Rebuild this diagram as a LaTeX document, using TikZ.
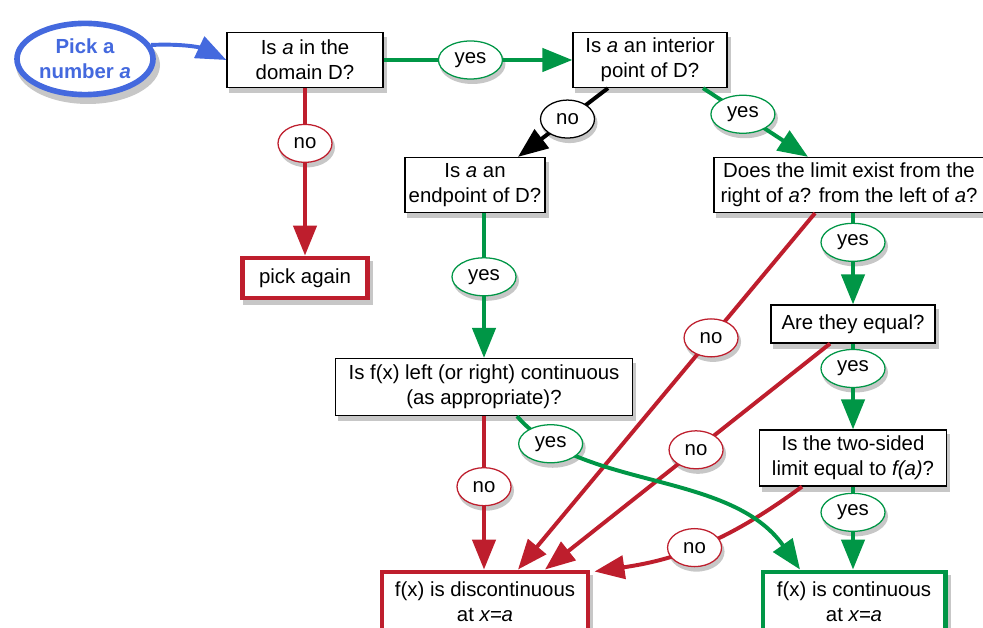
\documentclass[tikz,border=0pt]{standalone}
\usepackage{fontspec}
\setmainfont{Liberation Sans}
\usepackage{tikz}
\usetikzlibrary{arrows.meta,positioning,calc,shapes.geometric,backgrounds}
\definecolor{fcred}{RGB}{190,30,45}
\definecolor{fcgreen}{RGB}{0,150,70}
\definecolor{fcblue}{RGB}{68,105,222}

\begin{document}
\begin{tikzpicture}[
  x=0.025cm, y=-0.025cm,
  font=\fontsize{14.5}{17.5}\selectfont,
  shd/.style={fill=black!22, draw=none},
  box/.style={draw, fill=white, line width=0.9pt, align=center, inner sep=2pt,
              minimum height=1.375cm},
  endbox/.style={box, line width=3.5pt},
  tag/.style={ellipse, draw, fill=white, text=black, line width=0.9pt, inner sep=0pt,
              minimum height=0.95cm},
  yeslbl/.style={tag, draw=fcgreen, minimum width=1.6cm},
  nolbl/.style={tag, draw=fcred, minimum width=1.35cm},
  blklbl/.style={tag, draw=black, minimum width=1.35cm},
  ar/.style={-{Triangle[length=7.5mm,width=5.8mm]}, line width=2.8pt},
  gar/.style={ar, color=fcgreen},
  rar/.style={ar, color=fcred},
  bar/.style={ar, color=fcblue}
]
\useasboundingbox (0,0) rectangle (983,628);

\node[ellipse, draw=fcblue, line width=4pt, fill=white, text=fcblue, align=center,
      minimum width=3.4cm, minimum height=1.78cm, inner sep=0pt,
      font=\fontsize{14.5}{17.5}\selectfont\bfseries] (pick) at (85,59) {Pick a\\number \textit{a}};
\node[box, minimum width=3.9cm]  (domain) at (305,60)  {Is \textit{a} in the\\domain D?};
\node[box, minimum width=3.85cm] (inner)  at (650,60)  {Is \textit{a} an interior\\point of D?};
\node[box, minimum width=3.5cm]  (endpt)  at (475,185) {Is \textit{a} an\\endpoint of D?};
\node[box, minimum width=6.75cm] (limits) at (849,185) {Does the limit exist from the\\right of \textit{a}? from the left of \textit{a}?};
\node[endbox, draw=fcred, minimum width=3.125cm, minimum height=1cm] (again) at (305,278) {pick again};
\node[box, minimum width=7.425cm, minimum height=1.425cm] (onesided) at (484,387) {Is f(x) left (or right) continuous\\(as appropriate)?};
\node[box, minimum width=4.1cm, minimum height=0.95cm] (equal) at (853,324) {Are they equal?};
\node[box, minimum width=4.675cm, minimum height=1.4cm] (twosided) at (853,458) {Is the two-sided\\limit equal to \textit{f(a)}?};
\node[endbox, draw=fcred, minimum width=5.15cm, minimum height=1.5cm] (disc) at (485,602) {f(x) is discontinuous\\at \textit{x=a}};
\node[endbox, draw=fcgreen, minimum width=4.55cm, minimum height=1.5cm] (cont) at (854,602) {f(x) is continuous\\at \textit{x=a}};

\draw[bar] (pick.12) to[bend left=14] (domain.west);
\draw[gar] (domain) -- (inner) node[yeslbl, pos=0.46] (y1) {yes};
\draw[rar] (domain) -- (again) node[nolbl, pos=0.33] (n1) {no};
\draw[ar] ($(inner.south)+(-42,0)$) -- ($(endpt.north)+(43,0)$) node[blklbl, pos=0.45] (n2) {no};
\draw[gar] ($(inner.south)+(53,0)$) -- ($(limits.north)+(-41,0)$) node[yeslbl, pos=0.38] (y2) {yes};
\draw[gar] ($(endpt.south)+(9,0)$) -- (onesided.north) node[yeslbl, pos=0.44] (y3) {yes};
\draw[rar] (onesided.south) -- (onesided.south |- disc.north) node[nolbl, pos=0.46] (n3) {no};
\draw[rar] ($(limits.south)+(-34,0)$) -- ($(disc.north)+(33,0)$) node[nolbl, pos=0.35] (n4) {no};
\draw[gar] (equal.north |- limits.south) -- (equal.north) node[yeslbl, pos=0.32] (y4) {yes};
\draw[rar] ($(equal.south)+(-23,0)$) -- ($(disc.north)+(60,0)$) node[nolbl, pos=0.47] (n5) {no};
\draw[gar] (equal) -- (twosided) node[yeslbl, pos=0.29] (y5) {yes};
\draw[rar] ($(twosided.south)+(-51,0)$) to[bend left=14] node[nolbl, pos=0.55] (n6) {no} ($(disc.north east)+(4,2)$);
\draw[gar] (twosided.south) -- (twosided.south |- cont.north) node[yeslbl, pos=0.31] (y6) {yes};
\draw[gar] ($(onesided.south)+(33,0)$) .. controls (580,490) and (730,470) .. ($(cont.north)+(-54,0)$)
      node[yeslbl, pos=0.15] (y7) {yes};

\begin{scope}[on background layer]
  \foreach \n in {domain,inner,endpt,limits,again,onesided,equal,twosided,disc,cont}
    \fill[shd] ([shift={(3,5)}]\n.south west) rectangle ([shift={(3,5)}]\n.north east);
  \foreach \n in {y1,y2,y3,y4,y5,y6,y7}
    \fill[shd] ([shift={(2,4)}]\n.center) ellipse [x radius=33, y radius=20];
  \foreach \n in {n1,n2,n3,n4,n5,n6}
    \fill[shd] ([shift={(2,4)}]\n.center) ellipse [x radius=28, y radius=20];
  \fill[shd] ([shift={(3,6)}]pick.center) ellipse [x radius=72, y radius=39];
\end{scope}
\end{tikzpicture}
\end{document}
